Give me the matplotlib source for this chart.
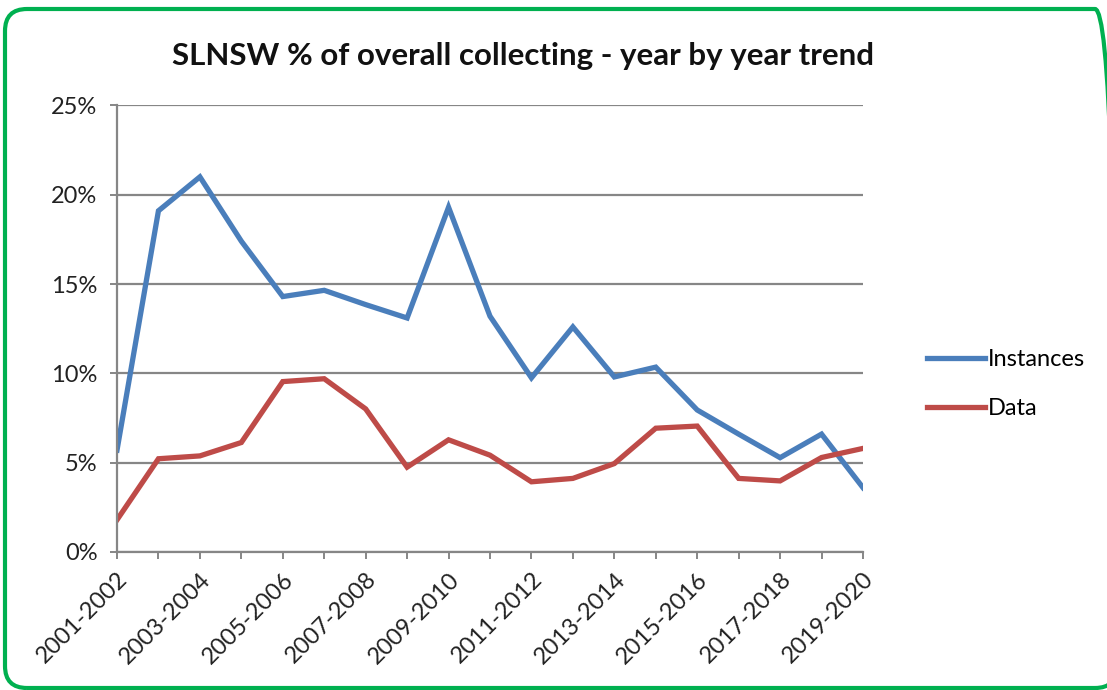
import matplotlib.pyplot as plt
from matplotlib.patches import FancyBboxPatch
from matplotlib.ticker import FuncFormatter, MultipleLocator

years = ["2001-2002", "2002-2003", "2003-2004", "2004-2005", "2005-2006",
         "2006-2007", "2007-2008", "2008-2009", "2009-2010", "2010-2011",
         "2011-2012", "2012-2013", "2013-2014", "2014-2015", "2015-2016",
         "2016-2017", "2017-2018", "2018-2019", "2019-2020"]
instances = [5.7, 19.1, 21.0, 17.4, 14.3, 14.65, 13.85, 13.1, 19.3, 13.2,
             9.75, 12.6, 9.8, 10.35, 7.95, 6.6, 5.28, 6.6, 3.6]
data = [1.8, 5.22, 5.38, 6.13, 9.54, 9.7, 8.01, 4.75, 6.28, 5.42,
        3.93, 4.12, 4.95, 6.93, 7.05, 4.12, 3.98, 5.29, 5.8]

plt.rcParams["font.family"] = ["Lato", "DejaVu Sans"]

fig = plt.figure(figsize=(11.07, 6.9), dpi=100)
ax = fig.add_axes([117 / 1107, 0.2, (863 - 117) / 1107, 0.6472])

grid_c = "#868686"
x = list(range(len(years)))
ax.plot(x, instances, color="#4A7EBB", linewidth=3.8, label="Instances", solid_joinstyle="miter")
ax.plot(x, data, color="#BE4B48", linewidth=3.8, label="Data", solid_joinstyle="miter")

ax.set_xlim(0, len(years) - 1)
ax.set_ylim(0, 25)
ax.yaxis.set_major_locator(MultipleLocator(5))
ax.yaxis.set_major_formatter(FuncFormatter(lambda v, p: f"{v:.0f}%"))
ax.grid(True, axis="y", color=grid_c, linewidth=1.6)
ax.set_axisbelow(True)

ax.set_xticks(x)
ax.set_xticklabels([y if i % 2 == 0 else "" for i, y in enumerate(years)],
                   rotation=45, ha="right", rotation_mode="anchor")

for s in ["top", "right"]:
    ax.spines[s].set_visible(False)
for s in ["left", "bottom"]:
    ax.spines[s].set_color(grid_c)
    ax.spines[s].set_linewidth(1.6)
ax.tick_params(axis="both", colors=grid_c, length=5, width=1.4, labelcolor="#222222",
               labelsize=17)
ax.tick_params(axis="y", pad=9)
ax.tick_params(axis="x", pad=7)

fig.text(523 / 1107, 1 - 56 / 690, "SLNSW % of overall collecting - year by year trend",
         ha="center", va="center", fontsize=22.5, fontweight="bold", color="#111111")

leg = ax.legend(loc="center left", bbox_to_anchor=(906 / 1107, 1 - 384 / 690),
                bbox_transform=fig.transFigure, frameon=False, fontsize=17,
                handlelength=2.45, handletextpad=0.1, labelspacing=1.2)

# green rounded frame round the whole picture, partly cut off at right and bottom
border = FancyBboxPatch((0.05, 0.02), 11.12, 6.79, boxstyle="round,pad=0,rounding_size=0.22",
                        transform=fig.dpi_scale_trans, facecolor="none",
                        edgecolor="#00B050", linewidth=3, clip_on=False)
fig.patches.append(border)

fig.savefig("out.png", dpi=100)
